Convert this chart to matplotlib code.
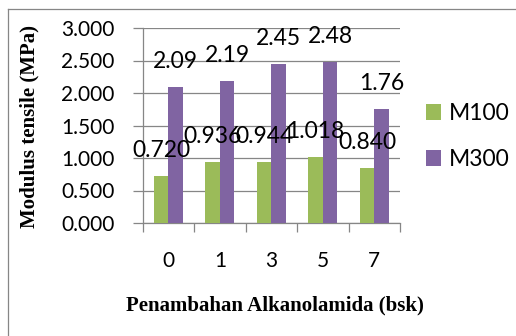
import matplotlib
matplotlib.use("Agg")
import matplotlib.pyplot as plt
import numpy as np
from matplotlib.lines import Line2D

# Modulus tensile per Alkanolamida addition
categories = ["0", "1", "3", "5", "7"]
m100 = [0.720, 0.936, 0.944, 1.018, 0.840]
m300 = [2.09, 2.19, 2.45, 2.48, 1.76]
m100_labels = ["0.720", "0.936", "0.944", "1.018", "0.840"]
m300_labels = ["2.09", "2.19", "2.45", "2.48", "1.76"]
yticks = [0.0, 0.5, 1.0, 1.5, 2.0, 2.5, 3.0]

GREEN = "#9BBB59"
PURPLE = "#8064A2"
GRID = "#868686"

W, H = 516, 336
fig = plt.figure(figsize=(W / 100, H / 100), dpi=100)
ax = fig.add_axes([142.7 / W, (H - 223) / H, (400 - 142.7) / W, (223 - 28) / H])

x = np.arange(len(categories))
bw = 0.28
b1 = ax.bar(x - bw / 2, m100, bw, color=GREEN, label="M100", zorder=3)
b2 = ax.bar(x + bw / 2, m300, bw, color=PURPLE, label="M300", zorder=3)

lbl_font = dict(family="Lato", fontsize=16.5)
for bars, texts in ((b1, m100_labels), (b2, m300_labels)):
    for rect, t in zip(bars, texts):
        ax.annotate(t, (rect.get_x() + rect.get_width() / 2, rect.get_height()),
                    xytext=(0, 13.7), textcoords="offset points",
                    ha="center", va="baseline", zorder=5, **lbl_font)

ax.set_xlim(-0.5, len(categories) - 0.5)
ax.set_ylim(0, 3.0)
ax.set_yticks(yticks)
ax.set_yticklabels(["%.3f" % v for v in yticks], family="Lato", fontsize=15)
ax.yaxis.grid(True, color=GRID, lw=0.9, zorder=0)
ax.tick_params(axis="y", length=7.2, width=0.9, color=GRID, pad=13)

# category ticks between groups, labels at group centres
ax.set_xticks(np.arange(len(categories) + 1) - 0.5)
ax.set_xticklabels([])
ax.set_xticks(x, minor=True)
ax.set_xticklabels(categories, minor=True, family="Lato", fontsize=15)
ax.tick_params(axis="x", which="major", length=6.5, width=0.9, color=GRID)
ax.tick_params(axis="x", which="minor", length=0, pad=20)

for s in ("top", "right"):
    ax.spines[s].set_visible(False)
for s in ("left", "bottom"):
    ax.spines[s].set_color(GRID)
    ax.spines[s].set_linewidth(0.9)

fig.text(29 / W, 1 - 127 / H, "Modulus tensile (MPa)", rotation=90,
         ha="center", va="center", family="Liberation Serif",
         weight="bold", fontsize=15)
fig.text(275 / W, 1 - 305 / H, "Penambahan Alkanolamida (bsk)",
         ha="center", va="center", family="Liberation Serif",
         weight="bold", fontsize=15)

leg = fig.legend(handles=[b1, b2], loc="upper left",
                 bbox_to_anchor=(426 / W, 1 - 103 / H), frameon=False,
                 prop={"family": "Lato", "size": 16.5},
                 handlelength=0.66, handleheight=0.66, handletextpad=0.32,
                 labelspacing=1.1, borderpad=0, borderaxespad=0)

# chart frame, only top and left edges fall inside the image
fig.add_artist(Line2D([8 / W, 8 / W], [0, 1 - 9 / H], transform=fig.transFigure,
                      color=GRID, lw=0.9))
fig.add_artist(Line2D([8 / W, 1], [1 - 9 / H, 1 - 9 / H], transform=fig.transFigure,
                      color=GRID, lw=0.9))

fig.savefig("out.png", dpi=100)
